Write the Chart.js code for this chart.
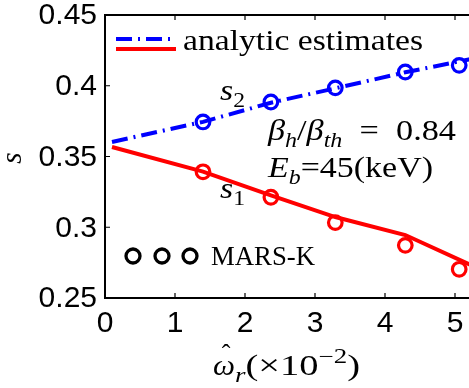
<!DOCTYPE html>
<html>
<head>
<meta charset="utf-8">
<script src="https://cdn.jsdelivr.net/npm/chart.js@4"></script>
<style>
html, body { margin: 0; padding: 0; background: #fff; overflow: hidden; }
</style>
</head>
<body>
<canvas id="chart" width="500" height="388"></canvas>
<script>
// axis ticks
var xTicks = [0, 1, 2, 3, 4, 5];
var yTicks = [0.25, 0.3, 0.35, 0.4, 0.45];
var yTickLabels = ['0.25', '0.3', '0.35', '0.4', '0.45'];

// analytic estimates (lines)
var analyticX  = [0.1, 1.4, 2.37, 3.29, 4.29, 5.3];
var analyticS1 = [0.3567, 0.3393, 0.3226, 0.3072, 0.2945, 0.2716];
var analyticS2 = [0.3603, 0.3745, 0.3880, 0.3982, 0.4095, 0.4196];

// MARS-K results (circles)
var marsX  = [1.40, 2.37, 3.29, 4.29, 5.06];
var marsS1 = [0.3392, 0.3212, 0.3033, 0.2872, 0.2703];
var marsS2 = [0.3744, 0.3885, 0.3985, 0.4097, 0.4144];

function pts(xs, ys) {
	return xs.map(function(x, i) { return {x: x, y: ys[i]}; });
}

var SERIF = '"Liberation Serif", "Times New Roman", serif';
var SANS = '"Liberation Sans", Arial, sans-serif';

function runFont(st, size) {
	var fs = size, dy = 0, it = false;
	if (st == 'i') it = true;
	if (st == 'sub' || st == 'subi') { fs = size * 0.7; dy = size * 0.24; it = (st == 'subi'); }
	if (st == 'sup') { fs = size * 0.7; dy = -size * 0.42; }
	return { font: (it ? 'italic ' : '') + fs + 'px ' + SERIF, dy: dy };
}

// draw a row of text pieces [text, style], stretched to a given width
// (the original uses Computer Modern, which is wider than Times)
function drawRuns(ctx, x, y, parts, size, width) {
	ctx.save();
	ctx.textBaseline = 'alphabetic';
	ctx.textAlign = 'left';
	var total = 0;
	parts.forEach(function(p) {
		ctx.font = runFont(p[1] || 'r', size).font;
		total += ctx.measureText(p[0]).width;
	});
	var k = width ? width / total : 1;
	ctx.translate(x, y);
	ctx.scale(k, 1);
	var cx = 0;
	parts.forEach(function(p) {
		var f = runFont(p[1] || 'r', size);
		ctx.font = f.font;
		ctx.fillText(p[0], cx, f.dy);
		cx += ctx.measureText(p[0]).width;
	});
	ctx.restore();
	return x + cx * k;
}

var decor = {
	id: 'decor',
	afterDraw: function(chart) {
		var ctx = chart.ctx, a = chart.chartArea;
		var xs = chart.scales.x, ys = chart.scales.y;
		ctx.save();
		ctx.strokeStyle = '#000';
		ctx.lineWidth = 2;
		// frame
		ctx.beginPath();
		ctx.moveTo(a.right + 2, a.top);
		ctx.lineTo(a.left, a.top);
		ctx.lineTo(a.left, a.bottom);
		ctx.lineTo(a.right + 2, a.bottom);
		ctx.stroke();
		// inward ticks
		ctx.lineWidth = 1.2;
		ctx.beginPath();
		xTicks.forEach(function(v) {
			var px = xs.getPixelForValue(v);
			ctx.moveTo(px, a.bottom); ctx.lineTo(px, a.bottom - 5);
			ctx.moveTo(px, a.top); ctx.lineTo(px, a.top + 5);
		});
		yTicks.forEach(function(v) {
			var py = ys.getPixelForValue(v);
			ctx.moveTo(a.left, py); ctx.lineTo(a.left + 5, py);
		});
		ctx.stroke();
		// tick labels
		ctx.fillStyle = '#000';
		ctx.font = '30px ' + SANS;
		ctx.textAlign = 'center';
		ctx.textBaseline = 'middle';
		xTicks.forEach(function(v) {
			ctx.fillText(String(v), xs.getPixelForValue(v), a.bottom + 26);
		});
		ctx.textAlign = 'right';
		yTicks.forEach(function(v, i) {
			ctx.fillText(yTickLabels[i], a.left - 8, ys.getPixelForValue(v) + 1);
		});
		// x axis title: omega-hat_r (x10^-2)
		var x0 = 213;
		var x1 = drawRuns(ctx, x0, 375, [['ω', 'i']], 29, 22);
		ctx.font = '26px ' + SERIF;
		ctx.textAlign = 'center';
		ctx.textBaseline = 'alphabetic';
		ctx.fillText('ˆ', (x0 + x1) / 2 + 2, 362);
		drawRuns(ctx, x1, 375, [['r', 'subi'], ['(×10', 'r'], ['−2', 'sup'], [')', 'r']], 29, 360 - x1);
		// y axis title
		ctx.save();
		ctx.translate(21, 158);
		ctx.rotate(-Math.PI / 2);
		ctx.font = 'italic 29px ' + SERIF;
		ctx.textAlign = 'center';
		ctx.fillText('s', 0, 0);
		ctx.restore();
		// legend: analytic estimates
		ctx.lineWidth = 4;
		ctx.strokeStyle = '#0000ff';
		ctx.setLineDash([16, 6, 2, 6]);
		ctx.beginPath(); ctx.moveTo(116, 39); ctx.lineTo(176, 39); ctx.stroke();
		ctx.setLineDash([]);
		ctx.strokeStyle = '#ff0000';
		ctx.beginPath(); ctx.moveTo(116, 49); ctx.lineTo(176, 49); ctx.stroke();
		drawRuns(ctx, 183, 50, [['analytic estimates', 'r']], 29, 240);
		// legend: MARS-K
		ctx.strokeStyle = '#000';
		ctx.lineWidth = 3.3;
		[133, 162, 190].forEach(function(cx) {
			ctx.beginPath(); ctx.arc(cx, 256, 7, 0, Math.PI * 2); ctx.stroke();
		});
		drawRuns(ctx, 211, 265, [['MARS-K', 'r']], 28, 104);
		// annotations
		drawRuns(ctx, 220, 100, [['s', 'i'], ['2', 'sub']], 30, 25);
		drawRuns(ctx, 220, 198, [['s', 'i'], ['1', 'sub']], 30, 25);
		drawRuns(ctx, 268, 140, [['β', 'i'], ['h', 'subi'], ['/', 'r'], ['β', 'i'], ['th', 'subi'], ['  =  0.84', 'r']], 29, 188);
		drawRuns(ctx, 268, 177, [['E', 'i'], ['b', 'subi'], ['=45(keV)', 'r']], 29, 165);
		ctx.restore();
	}
};

var ctx = document.getElementById('chart').getContext('2d');
window.myChart = new Chart(ctx, {
	type: 'scatter',
	data: {
		datasets: [{
			label: 's2 analytic',
			data: pts(analyticX, analyticS2),
			showLine: true,
			borderColor: '#0000ff',
			borderWidth: 4,
			borderDash: [16, 6, 2, 6],
			pointRadius: 0,
			fill: false
		}, {
			label: 's1 analytic',
			data: pts(analyticX, analyticS1),
			showLine: true,
			borderColor: '#ff0000',
			borderWidth: 4,
			pointRadius: 0,
			fill: false
		}, {
			label: 's2 MARS-K',
			data: pts(marsX, marsS2),
			showLine: false,
			pointRadius: 6.8,
			pointBorderWidth: 3.2,
			pointBorderColor: '#0000ff',
			pointBackgroundColor: 'rgba(0,0,0,0)'
		}, {
			label: 's1 MARS-K',
			data: pts(marsX, marsS1),
			showLine: false,
			pointRadius: 6.8,
			pointBorderWidth: 3.2,
			pointBorderColor: '#ff0000',
			pointBackgroundColor: 'rgba(0,0,0,0)'
		}]
	},
	options: {
		responsive: false,
		animation: false,
		layout: { padding: { left: 105, top: 15, right: 5.6, bottom: 90 } },
		plugins: {
			legend: { display: false },
			tooltip: { enabled: false }
		},
		scales: {
			x: { type: 'linear', display: false, min: 0, max: 5.5 },
			y: { type: 'linear', display: false, min: 0.25, max: 0.45 }
		}
	},
	plugins: [decor]
});
</script>
</body>
</html>
